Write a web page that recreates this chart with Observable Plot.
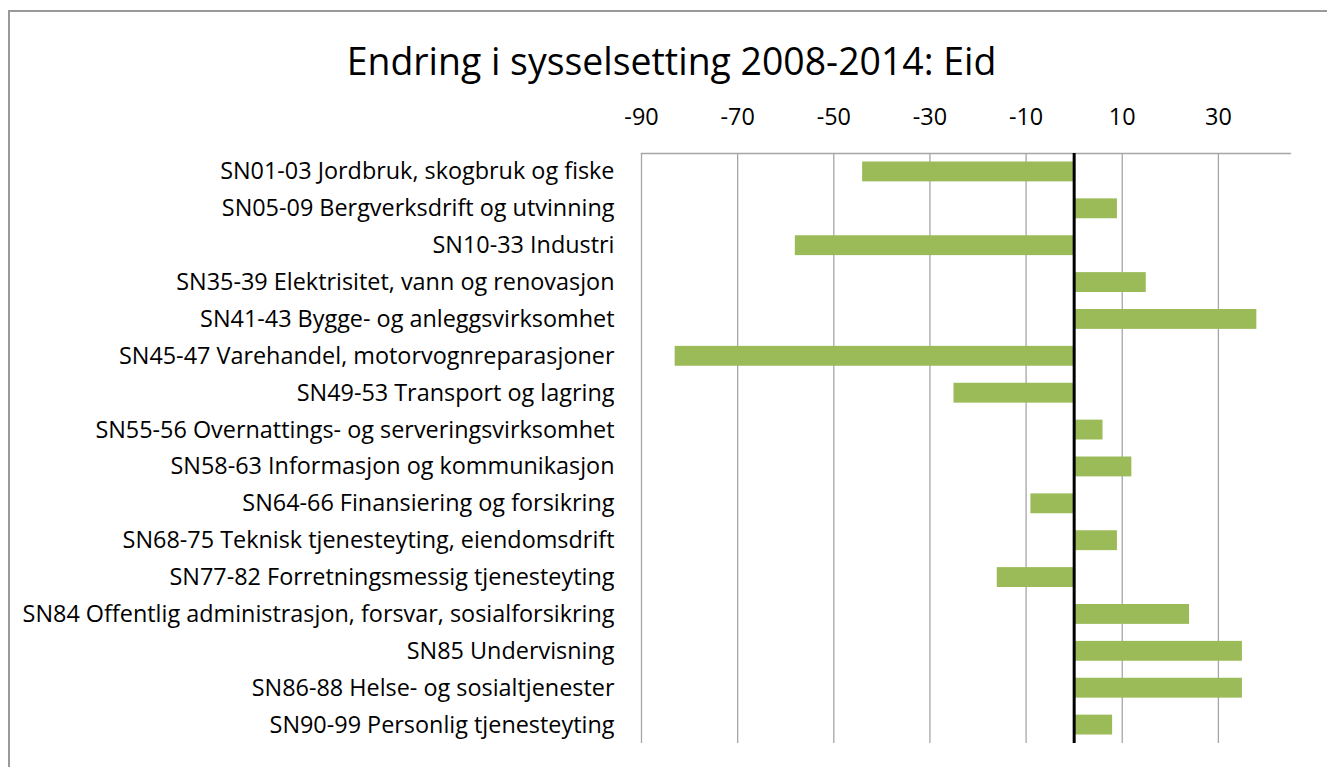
<!DOCTYPE html>
<html><head><meta charset="utf-8">
<script src="https://cdn.jsdelivr.net/npm/d3@7"></script>
<script src="https://cdn.jsdelivr.net/npm/@observablehq/plot@0.6"></script>
<style>
body{margin:0;background:#fff;font-family:"Open Sans", sans-serif;}
#wrap{position:relative;width:1327px;height:767px;overflow:hidden;}
#border{position:absolute;left:8px;top:10px;width:1340px;height:800px;border-left:2px solid #999;border-top:2px solid #999;}
#title{position:absolute;left:16px;top:36px;width:1311px;text-align:center;font-size:37.4px;color:#000;line-height:50px;white-space:nowrap;}
#chart{position:absolute;left:0;top:90px;}
</style></head><body>
<div id="wrap"><div id="border"></div><div id="title">Endring i sysselsetting 2008-2014: Eid</div><div id="chart"></div></div>
<script>
const categories = [
  "SN01-03 Jordbruk, skogbruk og fiske",
  "SN05-09 Bergverksdrift og utvinning",
  "SN10-33 Industri",
  "SN35-39 Elektrisitet, vann og renovasjon",
  "SN41-43 Bygge- og anleggsvirksomhet",
  "SN45-47 Varehandel, motorvognreparasjoner",
  "SN49-53 Transport og lagring",
  "SN55-56 Overnattings- og serveringsvirksomhet",
  "SN58-63 Informasjon og kommunikasjon",
  "SN64-66 Finansiering og forsikring",
  "SN68-75 Teknisk tjenesteyting, eiendomsdrift",
  "SN77-82 Forretningsmessig tjenesteyting",
  "SN84 Offentlig administrasjon, forsvar, sosialforsikring",
  "SN85 Undervisning",
  "SN86-88 Helse- og sosialtjenester",
  "SN90-99 Personlig tjenesteyting"
];
const values = [-44, 9, -58, 15, 38, -83, -25, 6, 12, -9, 9, -16, 24, 35, 35, 8];
const xTicks = [-90, -70, -50, -30, -10, 10, 30];
const xDomain = [-90, 45];

const data = categories.map((c, i) => ({category: c, value: values[i]}));

const plot = Plot.plot({
  width: 1327, height: 677,
  marginTop: 63, marginBottom: 24, marginLeft: 641, marginRight: 37,
  style: {fontFamily: "'Open Sans', sans-serif", fontSize: "23px", color: "#000", background: "transparent"},
  x: {domain: xDomain},
  y: {domain: categories, padding: 0, round: false},
  marks: [
    Plot.gridX(xTicks, {stroke: "#a6a6a6", strokeOpacity: 1, strokeWidth: 1.3}),
    Plot.frame({anchor: "top", stroke: "#a6a6a6", strokeWidth: 1.3}),
    Plot.barX(data, {x: "value", y: "category", fill: "#9bbb59", insetTop: 8.5, insetBottom: 8.5}),
    Plot.ruleX([0], {stroke: "#000", strokeWidth: 3}),
    Plot.axisX(xTicks, {anchor: "top", tickSize: 0, tickPadding: 29, fontSize: 23.4, label: null, tickFormat: d => String(d)}),
    Plot.axisY({tickSize: 0, tickPadding: 27, label: null, fontSize: 23.4})
  ]
});
document.getElementById("chart").appendChild(plot);
</script>
</body></html>
